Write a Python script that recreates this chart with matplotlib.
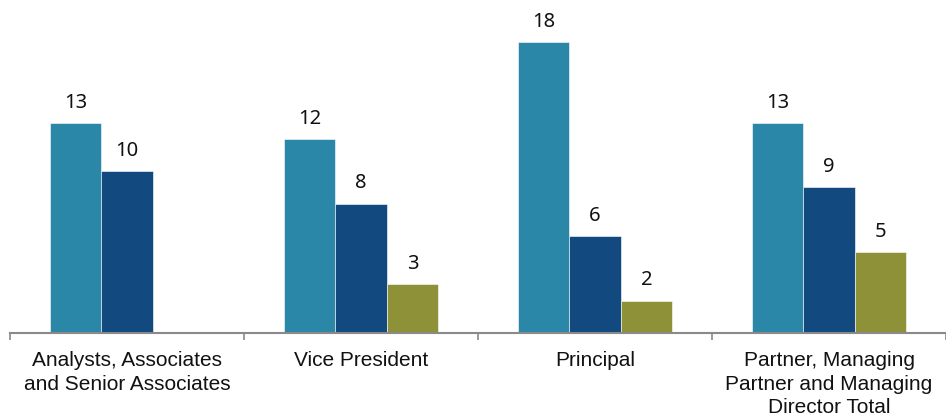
import matplotlib
matplotlib.use("Agg")
import matplotlib.pyplot as plt
import numpy as np

categories = ["Analysts, Associates\nand Senior Associates", "Vice President",
              "Principal", "Partner, Managing\nPartner and Managing\nDirector Total"]
series_a = [13, 12, 18, 13]
series_b = [10, 8, 6, 9]
series_c = [None, 3, 2, 5]
colors = ["#2B87A8", "#124A80", "#8E9137"]

plt.rcParams['font.family'] = ['Liberation Sans', 'DejaVu Sans']

fig = plt.figure(figsize=(9.46, 4.2), dpi=100)
ax = fig.add_axes([10/946, 1 - 333/420, 1 - 10/946, 333/420])

x = np.arange(len(categories))
w = 0.22
for i, (vals, col) in enumerate(zip([series_a, series_b, series_c], colors)):
    off = (i - 1) * w
    for xi, v in zip(x, vals):
        if v is None:
            continue
        ax.bar(xi + off, v, width=w, color=col, edgecolor="white", linewidth=0.4)
        ax.annotate(str(v), (xi + off, v), xytext=(0, 11), textcoords="offset points",
                    ha="center", va="baseline", fontsize=14.5, color="#111111",
                    family=["Noto Sans", "DejaVu Sans"])

ax.set_xlim(-0.5, -0.5 + 936/236)
ax.set_ylim(0, 333/16.17)
for s in ["top", "right", "left"]:
    ax.spines[s].set_visible(False)
ax.spines["bottom"].set_color("#8a8a8a")
ax.spines["bottom"].set_linewidth(1.5)
ax.set_yticks([])
ax.set_xticks([-0.5, 0.5, 1.5, 2.5, 3.5])
ax.set_xticklabels([])
ax.tick_params(axis="x", which="major", length=5, width=1.2, color="#8a8a8a")
ax.set_xticks(x, minor=True)
ax.set_xticklabels(categories, minor=True, fontsize=15, color="#111111", linespacing=1.3)
ax.tick_params(axis="x", which="minor", length=0, pad=13)

fig.savefig("out.png", dpi=100)
